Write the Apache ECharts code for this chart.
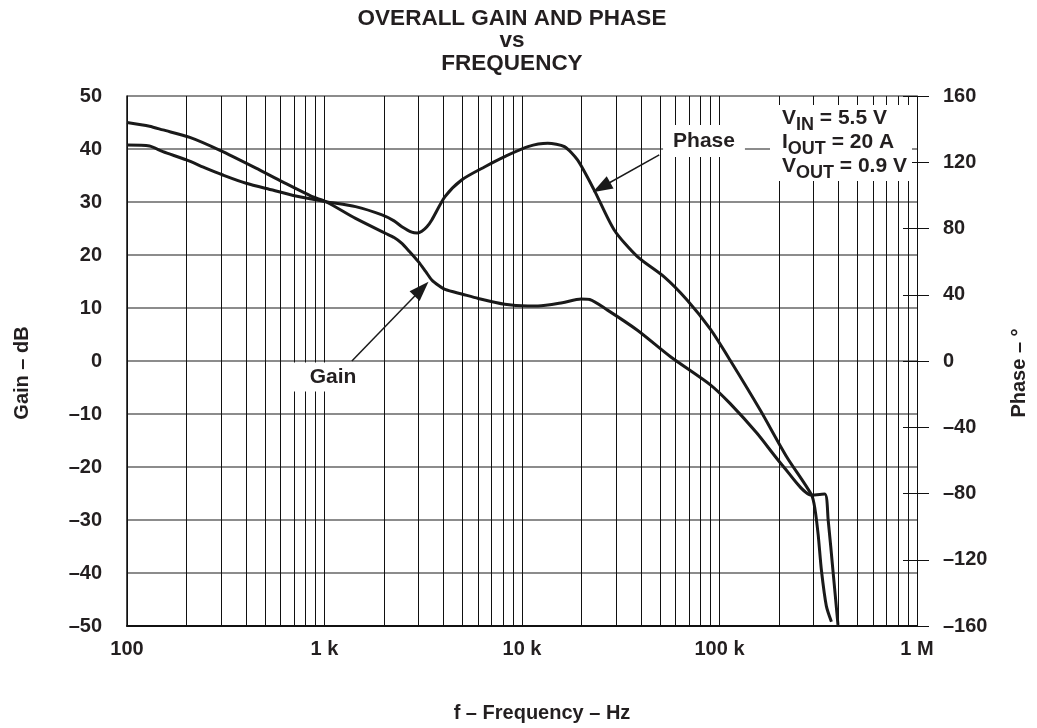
<!DOCTYPE html>
<html>
<head>
<meta charset="utf-8">
<script src="https://cdn.jsdelivr.net/npm/echarts@6/dist/echarts.min.js"></script>
<style>
html,body{margin:0;padding:0;background:#ffffff;}
#chart{width:1037px;height:728px;}
</style>
</head>
<body>
<div id="chart"></div>
<script>
// ---- Data ----
const gainFreq = [100, 130, 152, 208, 294, 450, 613, 868, 1014, 1436, 2033, 2250, 2465, 2700, 2993, 3250, 3493, 3800, 4075, 5000, 6000, 8180, 10700, 12040, 16000, 19900, 22000, 27100, 38400, 56500, 89900, 113000, 154500, 210500, 292600, 341000, 355000, 376600, 398000];
const gainDb   = [45.0, 44.3, 43.6, 42.2, 39.8, 36.4, 33.8, 31.0, 30.1, 26.9, 24.1, 23.3, 22.2, 20.6, 18.7, 16.9, 15.3, 14.2, 13.5, 12.6, 11.8, 10.7, 10.4, 10.4, 11.0, 11.7, 11.6, 9.6, 5.8, 0.8, -4.5, -8.0, -13.6, -19.9, -25.3, -25.1, -30.0, -40.1, -49.8];

const phaseFreq = [100, 130, 152, 200, 252, 306, 401, 546, 716, 1014, 1436, 1955, 2250, 2465, 2767, 2950, 3111, 3300, 3493, 4075, 4946, 6490, 8180, 10715, 13500, 16400, 19100, 23200, 29300, 38400, 52300, 68500, 89900, 113000, 160700, 218700, 292600, 304000, 316000, 328000, 347600, 368700];
const phaseDeg  = [130.4, 129.8, 126.4, 121.4, 116.3, 112.3, 107.3, 103.2, 99.6, 96.2, 93.2, 88.2, 84.6, 81.1, 77.8, 77.3, 78.3, 81.0, 85.1, 99.2, 109.3, 117.3, 123.4, 129.4, 131.4, 129.4, 121.4, 103.2, 79.1, 63.0, 50.9, 36.8, 19.2, 0.6, -29.6, -57.8, -80.9, -89.0, -105.0, -126.2, -148.0, -157.4];

const xTickValues = [100, 1000, 10000, 100000, 1000000];
const xTickLabels = ['100', '1 k', '10 k', '100 k', '1 M'];
const minorMultipliers = [2, 3, 4, 5, 6, 7, 8, 9];

// annotation arrows (frequency, axis value)
const gainArrow  = [[1376, 0], [3100, 13.6]];
const phaseArrow = [[49550, 124.4], [25240, 104.9]];

// condition text: [main, subscript, rest]
const conditionLines = [
  ['V', 'IN', ' = 5.5 V'],
  ['I', 'OUT', ' = 20 A'],
  ['V', 'OUT', ' = 0.9 V']
];

const FONT = "'Liberation Sans', Arial, Helvetica, sans-serif";
const INK = '#231f20';

function dash(v) { return v < 0 ? '\u2013' + Math.abs(v) : String(v); }

const minorLines = [];
xTickValues.slice(0, -1).forEach(function (d) {
  minorMultipliers.forEach(function (m) { minorLines.push({ xAxis: d * m }); });
});

// measure text widths to place subscripts
const mctx = document.createElement('canvas').getContext('2d');
function textWidth(str, size) {
  mctx.font = 'bold ' + size + 'px ' + FONT;
  return mctx.measureText(str).width;
}
const MAIN_SIZE = 21, SUB_SIZE = 18;
const condGraphics = [];
conditionLines.forEach(function (parts, li) {
  const yMain = 118 + li * 24;
  let x = 782;
  [[parts[0], false], [parts[1], true], [parts[2], false]].forEach(function (p) {
    const size = p[1] ? SUB_SIZE : MAIN_SIZE;
    condGraphics.push({
      type: 'text', x: x, y: p[1] ? yMain + 7 : yMain, z: 101,
      style: {
        text: p[0], fill: INK, font: 'bold ' + size + 'px ' + FONT,
        align: 'left', verticalAlign: 'middle'
      }
    });
    x += textWidth(p[0], size);
  });
});

const chart = echarts.init(document.getElementById('chart'), null, { renderer: 'canvas' });

const labelStyle = { fontFamily: FONT, fontSize: 20, fontWeight: 'bold', color: INK };

const option = {
  animation: false,
  backgroundColor: '#ffffff',
  title: {
    text: 'OVERALL GAIN AND PHASE\nvs\nFREQUENCY',
    left: 512, top: 7.5, padding: 0,
    textAlign: 'center',
    textStyle: { fontFamily: FONT, fontSize: 22.5, fontWeight: 'bold', color: INK, lineHeight: 22.5 }
  },
  grid: { left: 127, right: 116, top: 96, bottom: 102, containLabel: false },
  xAxis: {
    type: 'log', logBase: 10, min: 100, max: 1000000,
    axisLine: { show: true, onZero: false, lineStyle: { color: '#111', width: 2 } },
    axisTick: { show: false },
    axisLabel: Object.assign({}, labelStyle, {
      margin: 13,
      formatter: function (v) {
        const i = Math.round(Math.log10(v)) - 2;
        return xTickLabels[i] !== undefined ? xTickLabels[i] : '';
      }
    }),
    splitLine: { show: true, lineStyle: { color: '#111', width: 1 } },
    name: 'f \u2013 Frequency \u2013 Hz',
    nameLocation: 'middle', nameGap: 77,
    nameTextStyle: Object.assign({}, labelStyle, { padding: [0, 0, 0, 40] })
  },
  yAxis: [
    {
      type: 'value', position: 'left', min: -50, max: 50, interval: 10,
      axisLine: { show: true, onZero: false, lineStyle: { color: '#111', width: 1.5 } },
      axisTick: { show: false },
      axisLabel: Object.assign({}, labelStyle, { margin: 25, formatter: dash }),
      splitLine: { show: true, lineStyle: { color: '#666', width: 1.5 } },
      name: 'Gain \u2013 dB', nameLocation: 'middle', nameRotate: 90, nameGap: 95,
      nameTextStyle: Object.assign({}, labelStyle, { padding: [0, 24, 0, 0] })
    },
    {
      type: 'value', position: 'right', min: -160, max: 160, interval: 40,
      axisLine: { show: true, onZero: false, lineStyle: { color: '#111', width: 1 } },
      axisTick: { show: true, inside: false, length: 12, lineStyle: { color: '#111', width: 1 } },
      axisLabel: Object.assign({}, labelStyle, { margin: 26, formatter: dash }),
      splitLine: { show: false },
      name: 'Phase \u2013 \u00b0', nameLocation: 'middle', nameRotate: 90, nameGap: 92,
      nameTextStyle: Object.assign({}, labelStyle, { padding: [0, 24, 0, 0] })
    },
    {
      type: 'value', position: 'right', min: -160, max: 160, interval: 40,
      axisLine: { show: false },
      axisTick: { show: true, inside: true, length: 14, lineStyle: { color: '#111', width: 1 } },
      axisLabel: { show: false },
      splitLine: { show: false }
    }
  ],
  series: [
    {
      name: 'grid', type: 'line', data: [], z: 1, silent: true,
      markLine: {
        silent: true, symbol: 'none', animation: false,
        label: { show: false },
        lineStyle: { color: '#111', width: 1, type: 'solid' },
        data: minorLines
      }
    },
    {
      name: 'Gain', type: 'line', yAxisIndex: 0, z: 3,
      data: gainFreq.map(function (f, i) { return [f, gainDb[i]]; }),
      showSymbol: false, smooth: 0.25,
      lineStyle: { color: '#1a1a1a', width: 3 },
      markLine: {
        silent: true, animation: false,
        label: { show: false },
        lineStyle: { color: '#1a1a1a', width: 1.5, type: 'solid' },
        data: [[
          { coord: gainArrow[0], symbol: 'none' },
          { coord: gainArrow[1], symbol: 'triangle', symbolSize: [14, 20] }
        ]]
      }
    },
    {
      name: 'Phase', type: 'line', yAxisIndex: 1, z: 3,
      data: phaseFreq.map(function (f, i) { return [f, phaseDeg[i]]; }),
      showSymbol: false, smooth: 0.25,
      lineStyle: { color: '#1a1a1a', width: 3 },
      markLine: {
        silent: true, animation: false,
        label: { show: false },
        lineStyle: { color: '#1a1a1a', width: 1.5, type: 'solid' },
        data: [[
          { coord: phaseArrow[0], symbol: 'none' },
          { coord: phaseArrow[1], symbol: 'triangle', symbolSize: [14, 20] }
        ]]
      }
    }
  ],
  graphic: [
    {
      type: 'text', x: 704, y: 141, z: 100,
      style: {
        text: 'Phase', fill: INK, font: 'bold 21px ' + FONT,
        align: 'center', verticalAlign: 'middle',
        backgroundColor: '#ffffff', padding: [6, 10, 5, 10]
      }
    },
    {
      type: 'text', x: 333, y: 377, z: 100,
      style: {
        text: 'Gain', fill: INK, font: 'bold 21px ' + FONT,
        align: 'center', verticalAlign: 'middle',
        backgroundColor: '#ffffff', padding: [4, 17, 4, 17]
      }
    },
    {
      type: 'rect', z: 99,
      shape: { x: 770, y: 105, width: 142, height: 76 },
      style: { fill: '#ffffff' }
    }
  ].concat(condGraphics)
};

chart.setOption(option);
</script>
</body>
</html>
